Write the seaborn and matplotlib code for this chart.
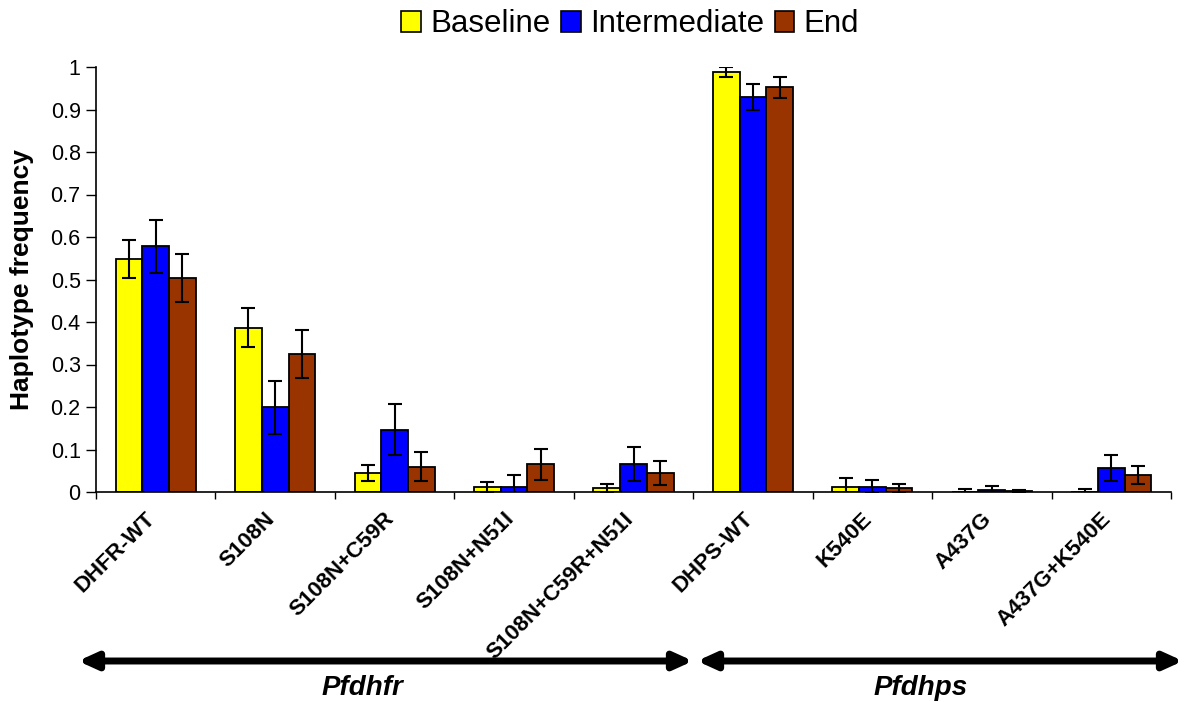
import numpy as np
import pandas as pd
import matplotlib
matplotlib.use("Agg")
import matplotlib.pyplot as plt
import seaborn as sns

haplotypes = ["DHFR-WT", "S108N", "S108N+C59R", "S108N+N51I", "S108N+C59R+N51I",
              "DHPS-WT", "K540E", "A437G", "A437G+K540E"]
periods = ["Baseline", "Intermediate", "End"]

baseline = [0.549, 0.387, 0.045, 0.0125, 0.0086, 0.989, 0.0125, 0.001, 0.001]
intermediate = [0.578, 0.199, 0.147, 0.0125, 0.065, 0.929, 0.0125, 0.004, 0.057]
end = [0.504, 0.325, 0.060, 0.065, 0.045, 0.952, 0.009, 0.003, 0.040]

baseline_err = [0.045, 0.045, 0.018, 0.012, 0.011, 0.012, 0.020, 0.006, 0.006]
intermediate_err = [0.062, 0.063, 0.060, 0.028, 0.040, 0.030, 0.016, 0.011, 0.031]
end_err = [0.057, 0.057, 0.035, 0.036, 0.028, 0.025, 0.011, 0.002, 0.022]

gene_groups = ["Pfdhfr", "Pfdhps"]
y_ticks = [0, 0.1, 0.2, 0.3, 0.4, 0.5, 0.6, 0.7, 0.8, 0.9, 1]

colors = ["#FFFF00", "#0000FF", "#993300"]

df = pd.DataFrame({
    "haplotype": haplotypes * 3,
    "period": sum([[p] * len(haplotypes) for p in periods], []),
    "freq": baseline + intermediate + end,
})
errs = [baseline_err, intermediate_err, end_err]

sns.set_style("white")
plt.rcParams["font.family"] = ["Liberation Sans", "DejaVu Sans"]
plt.rcParams["text.color"] = "black"
plt.rcParams["axes.labelcolor"] = "black"
plt.rcParams["xtick.color"] = "black"
plt.rcParams["ytick.color"] = "black"

fig = plt.figure(figsize=(11.84, 7.02), dpi=100)
ax = fig.add_axes([96 / 1184, 1 - 492 / 702, (1171 - 96) / 1184, (492 - 67) / 702])

sns.barplot(data=df, x="haplotype", y="freq", hue="period", order=haplotypes,
            hue_order=periods, palette=colors, edgecolor="black", linewidth=1.3,
            width=0.67, gap=0, errorbar=None, ax=ax, saturation=1)

for cont, e in zip(ax.containers, errs):
    xs = [p.get_x() + p.get_width() / 2 for p in cont.patches]
    hs = [p.get_height() for p in cont.patches]
    ax.errorbar(xs, hs, yerr=e, fmt="none", ecolor="black", elinewidth=1.5,
                capsize=5, capthick=1.5, zorder=5)

ax.set_xlim(-0.5, len(haplotypes) - 0.5)
ax.set_ylim(0, 1)
ax.set_yticks(y_ticks)
ax.set_yticklabels([f"{v:g}" for v in y_ticks], fontsize=15.5)
# label anchors slightly left of group centres (as in the original layout)
ax.set_xticks(np.arange(len(haplotypes)) - 0.09)
ax.set_xticklabels(haplotypes, rotation=45, ha="right", rotation_mode="anchor",
                   fontsize=16, fontweight="bold")
ax.set_xticks(np.arange(-0.5, len(haplotypes)), minor=True)
ax.tick_params(axis="x", which="major", bottom=False, length=0, pad=12)
ax.tick_params(axis="x", which="minor", bottom=True, length=5, width=1, color="black",
               direction="out")
ax.tick_params(axis="y", left=True, length=7, width=1, color="black", direction="out", pad=4)
ax.set_xlabel("")
ax.set_ylabel("Haplotype frequency", fontsize=19, fontweight="bold", labelpad=12)

for s in ["top", "right"]:
    ax.spines[s].set_visible(False)
for s in ["left", "bottom"]:
    ax.spines[s].set_color("black")
    ax.spines[s].set_linewidth(1.2)

leg = ax.legend(loc="upper center", bbox_to_anchor=(0.5 - 0.003, 1.165), ncol=3,
                frameon=False, fontsize=22.5, handlelength=0.62, handleheight=0.62,
                handletextpad=0.3, columnspacing=0.35, borderaxespad=0)
for h in leg.legend_handles:
    h.set_edgecolor("black")
    h.set_linewidth(1.2)

# gene group arrows
ya = 1 - 661 / 702
astyle = "<|-|>,head_length=1.1,head_width=0.5"
ax.annotate("", xy=(78 / 1184, ya), xytext=(693 / 1184, ya), xycoords="figure fraction",
            textcoords="figure fraction",
            arrowprops=dict(arrowstyle=astyle, color="black", lw=5, shrinkA=0, shrinkB=0))
ax.annotate("", xy=(697 / 1184, ya), xytext=(1183 / 1184, ya), xycoords="figure fraction",
            textcoords="figure fraction",
            arrowprops=dict(arrowstyle=astyle, color="black", lw=5, shrinkA=0, shrinkB=0))
fig.text(362 / 1184, 1 - 688 / 702, gene_groups[0], ha="center", va="center",
         fontsize=20, fontweight="bold", fontstyle="italic")
fig.text(921 / 1184, 1 - 688 / 702, gene_groups[1], ha="center", va="center",
         fontsize=20, fontweight="bold", fontstyle="italic")

fig.savefig("out.png", dpi=100)
